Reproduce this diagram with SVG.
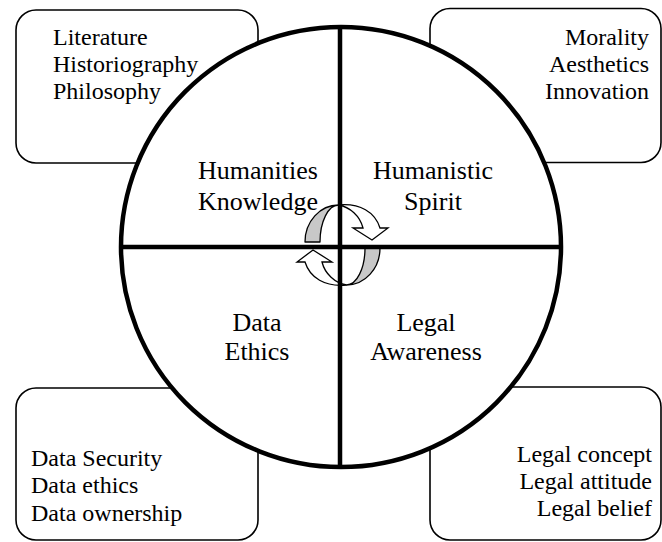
<svg xmlns="http://www.w3.org/2000/svg" width="662" height="542" viewBox="0 0 662 542">
<style>
.box{fill:#fff;stroke:#000;stroke-width:1.6}
.t{font-family:"Liberation Serif","Times New Roman",serif;font-size:24px;fill:#000}
.c{font-family:"Liberation Serif","Times New Roman",serif;font-size:26px;fill:#000;text-anchor:middle}
.e{text-anchor:end}
.ring{fill:#fff;stroke:#000;stroke-width:4.5}
.ax{stroke:#000;stroke-width:4.5;fill:none}
.g{fill:#c8c8c8;stroke:#000;stroke-width:1.3;stroke-linejoin:round}
.w{fill:#fff;stroke:#000;stroke-width:1.3;stroke-linejoin:miter}
</style>
<g id="box-humanities-knowledge">
<rect class="box" x="16" y="10" width="242" height="153" rx="20"/>
<text class="t" x="53" y="45">Literature</text>
<text class="t" x="53" y="72">Historiography</text>
<text class="t" x="53" y="99">Philosophy</text>
</g>
<g id="box-humanistic-spirit">
<rect class="box" x="430" y="8.5" width="231" height="154" rx="20"/>
<text class="t e" x="649" y="45">Morality</text>
<text class="t e" x="649" y="72">Aesthetics</text>
<text class="t e" x="649" y="99">Innovation</text>
</g>
<g id="box-data-ethics">
<rect class="box" x="16" y="388" width="242" height="152" rx="20"/>
<text class="t" x="31" y="466">Data Security</text>
<text class="t" x="31" y="493">Data ethics</text>
<text class="t" x="31" y="521">Data ownership</text>
</g>
<g id="box-legal-awareness">
<rect class="box" x="430" y="387" width="231" height="153" rx="20"/>
<text class="t e" x="652" y="462">Legal concept</text>
<text class="t e" x="652" y="489">Legal attitude</text>
<text class="t e" x="652" y="516">Legal belief</text>
</g>
<g id="circle">
<circle class="ring" cx="341" cy="247" r="220"/>
</g>
<g id="cycle-arrows">
<g id="arrow-upper">
<path class="g" d="M305,242 A33.5,37 0 0 1 338.5,205 A18.5,37 0 0 0 320,242 Z"/>
<path class="w" d="M338.5,205 C360,203 375,212 380,228 L388,228 L372,240 L353,228 L363,228 C360,216 350,207 338.5,205 Z"/>
</g>
<g id="arrow-lower" transform="rotate(180 342.5 245)">
<path class="g" d="M305,242 A33.5,37 0 0 1 338.5,205 A18.5,37 0 0 0 320,242 Z"/>
<path class="w" d="M338.5,205 C360,203 375,212 380,228 L388,228 L372,240 L353,228 L363,228 C360,216 350,207 338.5,205 Z"/>
</g>
</g>
<g id="connectors">
<line class="ax" x1="121" y1="247" x2="561" y2="247"/>
<line class="ax" x1="340" y1="27" x2="340" y2="467"/>
</g>
<g id="quadrant-humanities-knowledge">
<text class="c" x="258" y="179">Humanities</text>
<text class="c" x="258" y="210">Knowledge</text>
</g>
<g id="quadrant-humanistic-spirit">
<text class="c" x="433" y="179">Humanistic</text>
<text class="c" x="433" y="210">Spirit</text>
</g>
<g id="quadrant-data-ethics">
<text class="c" x="257" y="331">Data</text>
<text class="c" x="257" y="360">Ethics</text>
</g>
<g id="quadrant-legal-awareness">
<text class="c" x="426" y="331">Legal</text>
<text class="c" x="426" y="360">Awareness</text>
</g>
</svg>
